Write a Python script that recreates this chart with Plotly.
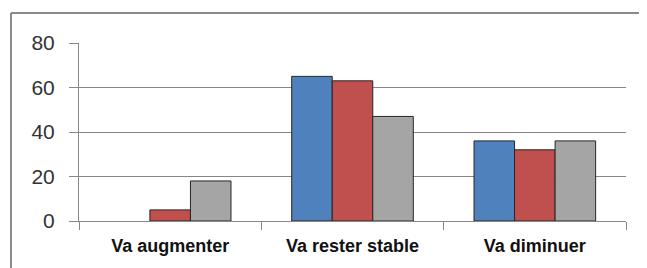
import plotly.graph_objects as go

categories = ["Va augmenter", "Va rester stable", "Va diminuer"]
series1 = [None, 65, 36]
series2 = [5, 63, 32]
series3 = [18, 47, 36]
yticks = [0, 20, 40, 60, 80]

colors = ["#4F81BD", "#C0504D", "#A5A5A5"]

fig = go.Figure()
for vals, c, name in zip([series1, series2, series3], colors, ["S1", "S2", "S3"]):
    fig.add_trace(go.Bar(x=categories, y=vals, name=name, marker=dict(color=c, line=dict(color="#262626", width=1))))

# page has an 8px body margin at top/left; compensate
OFF = 8
W, H = 647 - OFF, 268 - OFF
L, R, T, B = 79 - OFF, 21, 43 - OFF, 47
pw, ph = W - L - R, H - T - B

def px_x(p):
    return (p - OFF - L) / pw

def px_y(p):
    return (H - B - (p - OFF)) / ph

border = dict(color="#8a8a8a", width=2)
fig.add_shape(type="line", xref="paper", yref="paper",
              x0=px_x(11), x1=px_x(680), y0=px_y(13), y1=px_y(13), line=border, layer="below")
fig.add_shape(type="line", xref="paper", yref="paper",
              x0=px_x(11), x1=px_x(11), y0=px_y(13), y1=px_y(300), line=border, layer="below")

fig.update_layout(
    width=W, height=H, margin=dict(l=L, r=R, t=T, b=B),
    paper_bgcolor="white", plot_bgcolor="white",
    barmode="group", bargap=0.333, bargroupgap=0,
    showlegend=False,
    font=dict(family="Liberation Sans, Arial", color="#000000"),
)
fig.update_xaxes(showline=True, linecolor="#868686", linewidth=1, ticks="outside", tickson="boundaries",
                 ticklen=8, tickcolor="#868686", tickfont=dict(size=18, weight="bold", color="#111111"),
                 showgrid=False, ticklabelstandoff=8)
fig.update_yaxes(range=[0, 80], tickvals=yticks, showgrid=True, gridcolor="#868686", gridwidth=1,
                 showline=True, linecolor="#868686", ticks="outside", ticklen=9, tickcolor="#868686",
                 tickfont=dict(size=21, color="#333333"), zeroline=False, ticklabelstandoff=10)

fig.write_html("out.html")
